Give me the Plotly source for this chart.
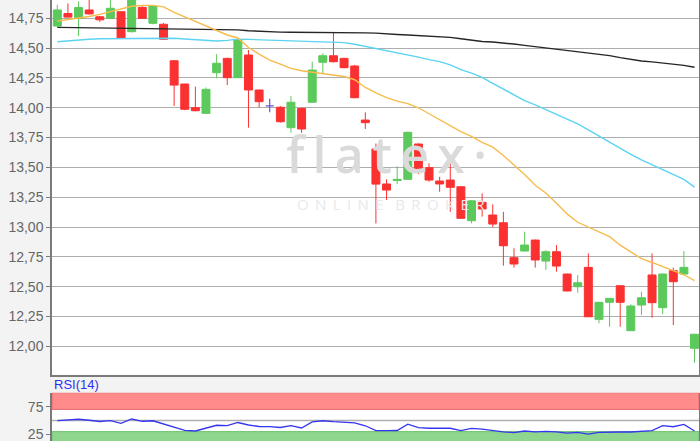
import plotly.graph_objects as go

# daily candles, index = trading day
days = list(range(61))
opens = [14.685, 14.79, 14.75, 14.82, 14.763, 14.75, 14.805, 14.638, 14.842, 14.708,
         14.70, 14.394, 14.199, 14.001, 13.953, 14.294, 14.414, 14.252, 14.442, 14.149,
         14.015, 14.004, 13.833, 13.995, 14.046, 14.381, 14.436, 14.414, 14.35, 13.897,
         13.654, 13.361, 13.39, 13.40, 13.696, 13.498, 13.386, 13.394, 13.338, 13.053,
         13.207, 13.101, 13.036, 12.743, 12.799, 12.891, 12.715, 12.793, 12.606, 12.50,
         12.662, 12.226, 12.369, 12.508, 12.131, 12.346, 12.598, 12.324, 12.634, 12.606,
         11.983]
highs = [14.864, 14.875, 14.89, 14.93, 14.77, 14.92, 14.81, 14.95, 14.85, 14.86,
         14.71, 14.40, 14.20, 14.177, 14.17, 14.45, 14.42, 14.57, 14.484, 14.15,
         14.076, 14.015, 14.098, 14.00, 14.386, 14.456, 14.629, 14.42, 14.36, 13.962,
         13.70, 13.40, 13.51, 13.80, 13.70, 13.534, 13.422, 13.59, 13.34, 13.225,
         13.283, 13.19, 13.128, 12.822, 12.961, 12.895, 12.807, 12.849, 12.61, 12.598,
         12.779, 12.37, 12.405, 12.51, 12.352, 12.458, 12.779, 12.61, 12.66, 12.799,
         12.105]
lows = [14.68, 14.755, 14.60, 14.78, 14.72, 14.75, 14.58, 14.63, 14.75, 14.70,
        14.57, 14.015, 13.98, 13.97, 13.95, 14.247, 14.19, 14.25, 13.833, 14.003,
        13.962, 13.875, 13.791, 13.79, 14.04, 14.283, 14.38, 14.33, 14.08, 13.822,
        13.03, 13.227, 13.36, 13.40, 13.444, 13.38, 13.296, 13.128, 13.07, 13.031,
        13.087, 13.00, 12.676, 12.66, 12.795, 12.66, 12.64, 12.626, 12.46, 12.45,
        12.245, 12.193, 12.164, 12.164, 12.13, 12.262, 12.24, 12.268, 12.178, 12.598,
        11.862]
closes = [14.82, 14.76, 14.84, 14.787, 14.737, 14.834, 14.582, 14.93, 14.75, 14.853,
          14.574, 14.19, 13.987, 13.975, 14.154, 14.373, 14.252, 14.568, 14.149, 14.051,
          14.015, 13.883, 14.046, 13.822, 14.316, 14.436, 14.386, 14.336, 14.084, 13.875,
          13.36, 13.31, 13.40, 13.794, 13.464, 13.394, 13.361, 13.333, 13.073, 13.22,
          13.151, 13.025, 12.843, 12.69, 12.849, 12.724, 12.793, 12.673, 12.464, 12.533,
          12.248, 12.369, 12.402, 12.369, 12.338, 12.407, 12.366, 12.606, 12.542, 12.662,
          12.101]

# moving averages
ma_short = [14.727, 14.74, 14.75, 14.765, 14.783, 14.805, 14.827, 14.851, 14.858, 14.858,
            14.846, 14.80, 14.762, 14.724, 14.688, 14.653, 14.61, 14.585, 14.505, 14.45,
            14.40, 14.365, 14.33, 14.31, 14.298, 14.285, 14.274, 14.262, 14.235, 14.17,
            14.125, 14.085, 14.055, 14.035, 14.00, 13.95, 13.90, 13.85, 13.80, 13.76,
            13.71, 13.67, 13.60, 13.52, 13.44, 13.35, 13.285, 13.20, 13.11, 13.04,
            13.00, 12.965, 12.92, 12.848, 12.79, 12.735, 12.703, 12.668, 12.636, 12.60,
            12.55]
ma_mid = [14.554, 14.562, 14.568, 14.574, 14.579, 14.58, 14.581, 14.582, 14.584, 14.586,
          14.587, 14.583, 14.577, 14.57, 14.568, 14.56, 14.565, 14.575, 14.573, 14.57,
          14.568, 14.566, 14.564, 14.562, 14.556, 14.551, 14.548, 14.546, 14.532, 14.515,
          14.498, 14.48, 14.462, 14.444, 14.425, 14.404, 14.387, 14.36, 14.32, 14.29,
          14.255, 14.205, 14.155, 14.107, 14.06, 14.025, 13.986, 13.945, 13.905, 13.864,
          13.815, 13.762, 13.71, 13.66, 13.61, 13.563, 13.522, 13.482, 13.445, 13.40,
          13.335]
ma_long = [14.674, 14.673, 14.672, 14.671, 14.67, 14.67, 14.669, 14.669, 14.668, 14.664,
           14.662, 14.66, 14.659, 14.658, 14.657, 14.656, 14.655, 14.653, 14.646, 14.641,
           14.636, 14.634, 14.633, 14.633, 14.632, 14.632, 14.632, 14.631, 14.63, 14.628,
           14.626, 14.618, 14.614, 14.61, 14.606, 14.603, 14.597, 14.59, 14.578, 14.566,
           14.555, 14.551, 14.544, 14.534, 14.523, 14.512, 14.503, 14.493, 14.482, 14.472,
           14.462, 14.45, 14.437, 14.42, 14.405, 14.392, 14.385, 14.377, 14.368, 14.355,
           14.34]
rsi = [49.6, 50.5, 52.2, 50.4, 48.2, 49.6, 45.0, 52.7, 48.6, 49.5,
       44.1, 38.0, 32.2, 31.1, 36.0, 41.4, 40.8, 46.4, 41.9, 39.2,
       38.8, 37.4, 40.6, 36.5, 47.5, 49.5, 48.0, 46.9, 45.9, 40.5,
       31.7, 31.7, 32.0, 43.3, 37.1, 36.0, 36.0, 36.0, 31.7, 35.8,
       34.4, 31.7, 29.5, 28.2, 31.1, 29.5, 30.4, 29.7, 27.2, 28.6,
       25.4, 28.6, 29.3, 29.3, 29.3, 30.9, 31.7, 40.6, 38.8, 43.1,
       31.1]
rsi_overbought = 70
rsi_oversold = 30
price_ticks = [12.00, 12.25, 12.50, 12.75, 13.00, 13.25, 13.50, 13.75, 14.00, 14.25, 14.50, 14.75]

UP = "#5cc95c"
DOWN = "#fb3131"
DOJI = "#6b52d6"

doji = [i for i in days if opens[i] == closes[i]]
normal = [i for i in days if i not in doji]


def pick(arr, idx):
    return [arr[i] for i in idx]


def spaced(word, gap):
    return gap.join(word)


fig = go.Figure()

# watermark under the candles
fig.add_trace(go.Scatter(
    x=[31.0, 31.4], y=[13.56, 13.176], mode="text",
    text=[spaced("flatex·", "\u2009"),
          spaced("ONLINE", " \u2009") + "   " + spaced("BROKER", " \u2009")],
    textfont=dict(family="Open Sans", size=[50, 15], color=["#dadada", "#e9e9e9"],
                  weight=[600, 400]),
    hoverinfo="skip", showlegend=False,
))

fig.add_trace(go.Candlestick(
    x=pick(days, normal), open=pick(opens, normal), high=pick(highs, normal),
    low=pick(lows, normal), close=pick(closes, normal),
    increasing=dict(line=dict(color=UP, width=1), fillcolor=UP),
    decreasing=dict(line=dict(color=DOWN, width=1), fillcolor=DOWN),
    whiskerwidth=0, showlegend=False,
))
fig.add_trace(go.Candlestick(
    x=pick(days, doji), open=pick(opens, doji), high=pick(highs, doji),
    low=pick(lows, doji), close=pick(closes, doji),
    increasing=dict(line=dict(color=DOJI, width=1.2), fillcolor=DOJI),
    decreasing=dict(line=dict(color=DOJI, width=1.2), fillcolor=DOJI),
    whiskerwidth=0, showlegend=False,
))

for vals, col in [(ma_long, "#262626"), (ma_mid, "#5cd3f3"), (ma_short, "#f6bb4c")]:
    fig.add_trace(go.Scatter(x=days, y=vals, mode="lines",
                             line=dict(color=col, width=1.4), showlegend=False))

fig.add_trace(go.Scatter(x=days, y=rsi, mode="lines", xaxis="x2", yaxis="y2",
                         line=dict(color="#3535f0", width=1.3), showlegend=False))

# RSI bands
fig.add_shape(type="rect", xref="x2 domain", yref="y2", x0=0, x1=1,
              y0=rsi_overbought, y1=100, fillcolor="#ff8b8b",
              line=dict(color="#e46a6a", width=1), layer="below")
fig.add_shape(type="rect", xref="x2 domain", yref="y2", x0=0, x1=1,
              y0=0, y1=rsi_oversold, fillcolor="#8ed68e",
              line=dict(color="#6fc46f", width=1), layer="below")
fig.add_shape(type="line", xref="x2 domain", yref="y2", x0=0, x1=1,
              y0=50, y1=50, line=dict(color="#b0b0b0", width=1.5), layer="below")

fig.add_annotation(text="RSI(14)", xref="paper", yref="paper", x=0, y=0.127,
                   xanchor="left", yanchor="middle", showarrow=False,
                   font=dict(family="Liberation Sans, Arial", size=13, color="#2f2ff0"))

axis_font = dict(family="Liberation Sans, Arial", size=14, color="#666666")
fig.update_layout(
    width=700, height=441,
    margin=dict(l=52, r=1, t=0, b=0),
    paper_bgcolor="#f3f3f3",
    plot_bgcolor="#ffffff",
    separators=",.",
    boxgap=0.25, boxgroupgap=0,
    xaxis=dict(range=[-0.5, 60.42], domain=[0, 1], anchor="y",
               showgrid=False, showticklabels=False, ticks="",
               showline=True, linecolor="#7a7a7a", linewidth=1.5,
               rangeslider=dict(visible=False), zeroline=False, automargin=False),
    yaxis=dict(range=[11.762, 14.9034], domain=[0.1503, 1], anchor="x",
               tickvals=price_ticks, tickformat=".2f", tickfont=axis_font,
               ticks="outside", ticklen=4, tickcolor="#7a7a7a",
               showgrid=True, gridcolor="#aeaeae", gridwidth=1.2,
               showline=True, mirror=True, linecolor="#7a7a7a", linewidth=1.5,
               zeroline=False, automargin=False, ticklabeloverflow="allow"),
    xaxis2=dict(range=[-0.5, 60.42], domain=[0, 1], anchor="y2", matches="x",
                showgrid=False, showticklabels=False, ticks="", showline=False,
                zeroline=False, automargin=False,
                rangeslider=dict(visible=False)),
    yaxis2=dict(range=[13.1, 100], domain=[0, 0.1095], anchor="x2",
                tickvals=[25, 75], tickfont=axis_font,
                ticks="outside", ticklen=4, tickcolor="#7a7a7a",
                showgrid=False, showline=True, mirror=True,
                linecolor="#7a7a7a", linewidth=1.5, zeroline=False, automargin=False,
                ticklabeloverflow="allow"),
)

fig.write_html("out.html", config=dict(displayModeBar=False),
               post_script="document.body.style.margin = '0';")
